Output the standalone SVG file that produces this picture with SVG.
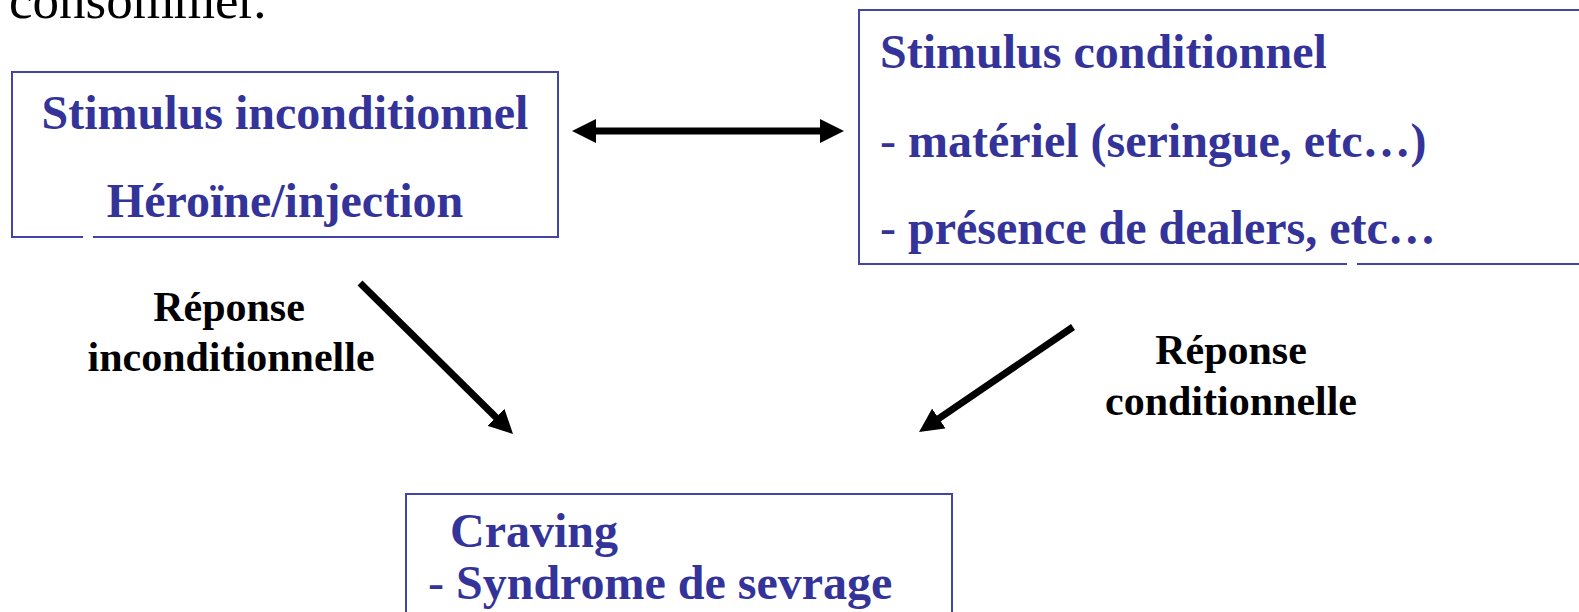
<svg xmlns="http://www.w3.org/2000/svg" width="1579" height="612" viewBox="0 0 1579 612">
  <style>
    .box { fill: #ffffff; stroke: #4444a4; stroke-width: 2; }
    .gap { stroke: #ffffff; stroke-width: 4; }
    .title { font-family: "Liberation Serif", "Times New Roman", serif; font-weight: bold; font-size: 48px; fill: #333399; }
    .dash { font-weight: normal; }
    .label { font-family: "Liberation Serif", "Times New Roman", serif; font-weight: bold; font-size: 42px; fill: #000000; text-anchor: middle; }
    .body { font-family: "Liberation Serif", "Times New Roman", serif; font-size: 53px; fill: #000000; }
    .conn { fill: none; stroke: #000000; stroke-width: 7; marker-end: url(#head); }
  </style>
  <defs>
    <marker id="head" viewBox="0 0 24 24" markerWidth="24" markerHeight="24" refX="6" refY="12" markerUnits="userSpaceOnUse" orient="auto-start-reverse">
      <path d="M0,0 L24,12 L0,24 z" fill="#000000"/>
    </marker>
  </defs>

  <rect width="1579" height="612" fill="#ffffff"/>

  <!-- tail of the preceding sentence -->
  <text class="body" x="9" y="18">consommer.</text>

  <g id="stimulus-inconditionnel">
    <rect class="box" x="12" y="72" width="546" height="165"/>
    <line class="gap" x1="83" y1="237" x2="93" y2="237"/>
    <text class="title" x="285" y="129" text-anchor="middle">Stimulus inconditionnel</text>
    <text class="title" x="285" y="217" text-anchor="middle">Héroïne/injection</text>
  </g>

  <g id="stimulus-conditionnel">
    <rect class="box" x="859" y="10" width="740" height="254"/>
    <line class="gap" x1="1347" y1="264" x2="1357" y2="264"/>
    <text class="title" x="880" y="68">Stimulus conditionnel</text>
    <text class="title" x="880" y="157"><tspan class="dash">-</tspan> matériel (seringue, etc…)</text>
    <text class="title" x="880" y="244"><tspan class="dash">-</tspan> présence de dealers, etc…</text>
  </g>

  <g id="craving">
    <rect class="box" x="406" y="494" width="546" height="140"/>
    <text class="title" x="450" y="547">Craving</text>
    <text class="title" x="428" y="599"><tspan class="dash">-</tspan> Syndrome de sevrage</text>
  </g>

  <g id="label-inconditionnelle">
    <text class="label" x="229" y="321">Réponse</text>
    <text class="label" x="231" y="371">inconditionnelle</text>
  </g>

  <g id="label-conditionnelle">
    <text class="label" x="1231" y="364">Réponse</text>
    <text class="label" x="1231" y="415">conditionnelle</text>
  </g>

  <g id="connectors">
    <line class="conn" x1="590" y1="131" x2="826" y2="131" marker-start="url(#head)"/>
    <line class="conn" x1="360" y1="283" x2="500.2" y2="421.4"/>
    <line class="conn" x1="1073" y1="327" x2="933.9" y2="421.9"/>
  </g>
</svg>
